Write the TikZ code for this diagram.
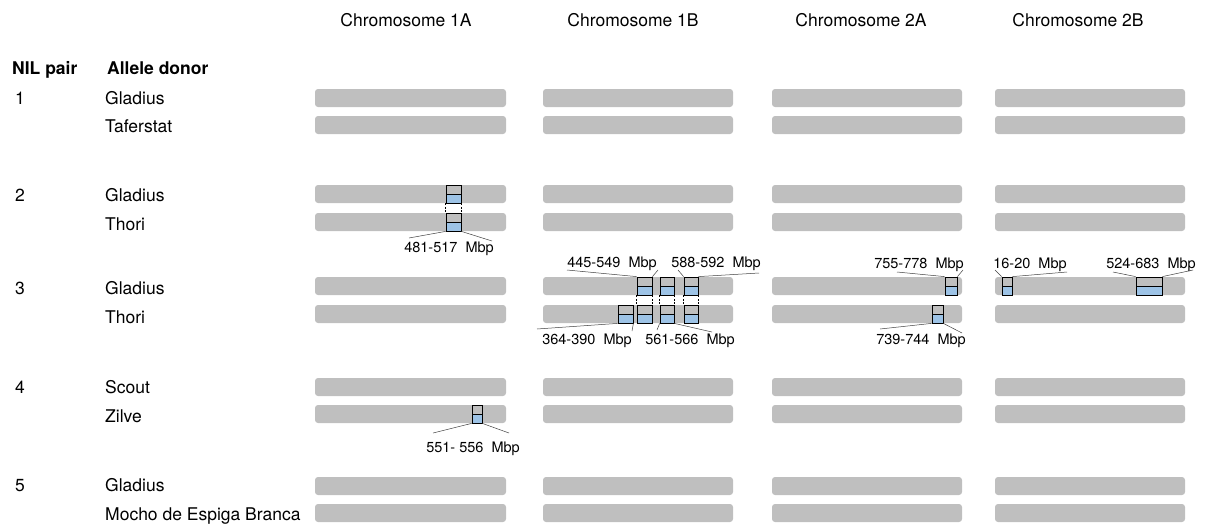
\documentclass[tikz,border=0pt]{standalone}
\usepackage{fontspec}
\setmainfont{TeX Gyre Heros}
\definecolor{chromgray}{HTML}{BFBFBF}
\definecolor{mkblue}{HTML}{9DC3E6}
\definecolor{leadgray}{HTML}{404040}
\begin{document}
\begin{tikzpicture}[x=1pt,y=-1pt,
  chrom/.style={fill=chromgray, rounded corners=3pt},
  mk/.style={draw=black, line width=0.8pt, inner sep=0pt, minimum height=18pt,
    path picture={
      \fill[chromgray] (path picture bounding box.north west) rectangle (path picture bounding box.east);
      \fill[mkblue] (path picture bounding box.west) rectangle (path picture bounding box.south east);
      \draw[line width=0.8pt] (path picture bounding box.west) -- (path picture bounding box.east);}},
  leader/.style={draw=leadgray, line width=0.5pt},
  vdash/.style={draw=black, line width=0.5pt, dash pattern=on 2pt off 1.5pt},
  head/.style={anchor=base, font=\fontsize{17.5}{21}\selectfont},
  rowlbl/.style={anchor=base west, font=\fontsize{17.5}{21}\selectfont},
  boldlbl/.style={anchor=base west, font=\fontsize{17.5}{21}\selectfont\bfseries},
  mbp/.style={anchor=base, inner sep=0pt, font=\fontsize{14.5}{17}\selectfont}
]
\useasboundingbox (0,0) rectangle (1212,528);

% headers
\node[head] (h1a) at (406,26.3) {Chromosome 1A};
\node[head] (h1b) at (633,26.3) {Chromosome 1B};
\node[head] (h2a) at (861,26.3) {Chromosome 2A};
\node[head] (h2b) at (1078,26.3) {Chromosome 2B};

\node[boldlbl, inner sep=0pt] (nil) at (12,74.5) {NIL pair};
\node[boldlbl, inner sep=0pt] (don) at (107,74.5) {Allele donor};

% row labels
\foreach \n/\yc/\num/\name in {r1a/98/1/Gladius, r1b/126/{}/Taferstat,
   r2a/195/2/Gladius, r2b/224/{}/Thori,
   r3a/288/3/Gladius, r3b/317/{}/Thori,
   r4a/387/4/Scout, r4b/416/{}/Zilve,
   r5a/485/5/Gladius, r5b/514/{}/Mocho de Espiga Branca}{
  \node[rowlbl, inner sep=0pt] (\n num) at (15,\yc+6.3) {\num};
  \node[rowlbl, inner sep=0pt] (\n name) at (105,\yc+6.3) {\name};
}

% chromosome bars
\foreach \yc in {98,125,194,222,286,314,387,414,486,513}{
  \foreach \xa/\xb in {315/506,543/733,772/962,995/1185}{
    \fill[chrom] (\xa,\yc-9) rectangle (\xb,\yc+9);
  }
}

% ---- NIL pair 2, chromosome 1A
\node[mk, minimum width=15pt] (m2t) at (453.5,194) {};
\node[mk, minimum width=15pt] (m2b) at (453.5,222) {};
\draw[vdash] (m2t.south west) -- (m2b.north west);
\draw[vdash] (m2t.south east) -- (m2b.north east);
\node[mbp] (l2) at (449,252.2) {481-517\ \ Mbp};
\coordinate (l2w) at (409,238);
\coordinate (l2e) at (492,241);
\draw[leader] (m2b.south west) -- (l2w);
\draw[leader] (m2b.south east) -- (l2e);

% ---- NIL pair 3, chromosome 1B
\node[mk, minimum width=15pt] (bA) at (644.5,286) {};
\node[mk, minimum width=14pt] (bB) at (667,286) {};
\node[mk, minimum width=14pt] (bC) at (691,286) {};
\node[mk, minimum width=15pt] (bD2) at (625.5,314) {};
\node[mk, minimum width=15pt] (bA2) at (644.5,314) {};
\node[mk, minimum width=14pt] (bB2) at (667,314) {};
\node[mk, minimum width=14pt] (bC2) at (691,314) {};
\foreach \t/\b in {bA/bA2,bB/bB2,bC/bC2}{
  \draw[vdash] (\t.south west) -- (\b.north west);
  \draw[vdash] (\t.south east) -- (\b.north east);
}
\node[mbp] (l445) at (612,267.2) {445-549\ \ Mbp};
\coordinate (l445w) at (567,270);
\coordinate (l445e) at (658,270);
\draw[leader] (l445w) -- (bA.north west);
\draw[leader] (l445e) -- (bA.north east);
\node[mbp] (l588) at (716,267.2) {588-592\ \ Mbp};
\coordinate (l588w) at (678,270);
\coordinate (l588e) at (759,273);
\draw[leader] (l588w) -- (bC.north west);
\draw[leader] (l588e) -- (bC.north east);
\node[mbp] (l364) at (587,344.2) {364-390\ \ Mbp};
\coordinate (l364w) at (537,329);
\coordinate (l364e) at (632,331);
\draw[leader] (bD2.south west) -- (l364w);
\draw[leader] (bD2.south east) -- (l364e);
\node[mbp] (l561) at (690,344.2) {561-566\ \ Mbp};
\coordinate (l561w) at (657,330);
\coordinate (l561e) at (712,332);
\draw[leader] (bB2.south west) -- (l561w);
\draw[leader] (bB2.south east) -- (l561e);

% ---- NIL pair 3, chromosome 2A
\node[mk, minimum width=12pt] (cA) at (951,286) {};
\node[mk, minimum width=11pt] (cB) at (937.5,314) {};
\node[mbp] (l755) at (919,268.2) {755-778\ \ Mbp};
\coordinate (l755w) at (897,272);
\coordinate (l755e) at (963,270);
\draw[leader] (l755w) -- (cA.north west);
\draw[leader] (l755e) -- (cA.north east);
\node[mbp] (l739) at (921,344.2) {739-744\ \ Mbp};
\coordinate (l739w) at (880,329);
\coordinate (l739e) at (962,333);
\draw[leader] (cB.south west) -- (l739w);
\draw[leader] (cB.south east) -- (l739e);

% ---- NIL pair 3, chromosome 2B
\node[mk, minimum width=10pt] (dA) at (1007,286) {};
\node[mk, minimum width=26pt] (dB) at (1149,286) {};
\node[mbp] (l16) at (1030,268.2) {16-20\ \ Mbp};
\coordinate (l16w) at (995,270);
\coordinate (l16e) at (1067,272);
\draw[leader] (l16w) -- (dA.north west);
\draw[leader] (l16e) -- (dA.north east);
\node[mbp] (l524) at (1151,268.2) {524-683\ \ Mbp};
\coordinate (l524w) at (1113,272);
\coordinate (l524e) at (1193,270);
\draw[leader] (l524w) -- (dB.north west);
\draw[leader] (l524e) -- (dB.north east);

% ---- NIL pair 4, chromosome 1A
\node[mk, minimum width=10pt] (eA) at (477,414) {};
\node[mbp] (l551) at (473,452.2) {551- 556\ \ Mbp};
\coordinate (l551w) at (433,433);
\coordinate (l551e) at (509,433);
\draw[leader] (eA.south west) -- (l551w);
\draw[leader] (eA.south east) -- (l551e);

\end{tikzpicture}
\end{document}
